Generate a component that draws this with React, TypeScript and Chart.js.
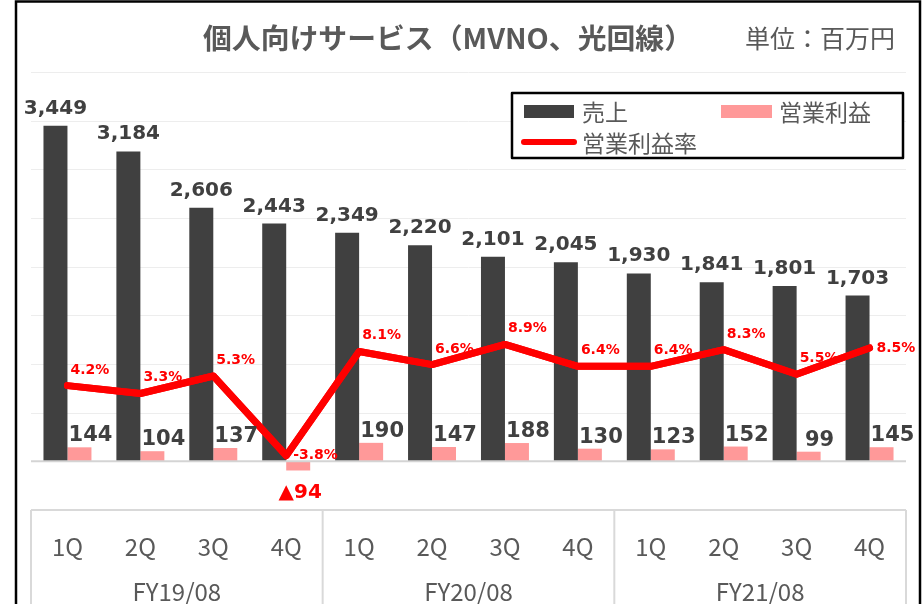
import React, { useEffect, useRef } from "react";
import { Chart, registerables } from "chart.js";

Chart.register(...registerables);

const titleText = "個人向けサービス（MVNO、光回線）";
const unitText = "単位：百万円";
const quarters = ["1Q", "2Q", "3Q", "4Q", "1Q", "2Q", "3Q", "4Q", "1Q", "2Q", "3Q", "4Q"];
const fiscalYears = ["FY19/08", "FY20/08", "FY21/08"];
const sales = [3449, 3184, 2606, 2443, 2349, 2220, 2101, 2045, 1930, 1841, 1801, 1703];
const operatingProfit = [144, 104, 137, -94, 190, 147, 188, 130, 123, 152, 99, 145];
const operatingMargin = [4.2, 3.3, 5.3, -3.8, 8.1, 6.6, 8.9, 6.4, 6.4, 8.3, 5.5, 8.5];
const salesGridTicks = [0, 500, 1000, 1500, 2000, 2500, 3000, 3500, 4000];
const legendLabels = ["売上", "営業利益", "営業利益率"];
// label placement style for margin labels
const marginLabelPlacement = ["above", "above", "above", "right", "above", "above", "above", "above", "above", "above", "above", "right"];

const SALES_COLOR = "#404040";
const PROFIT_COLOR = "#FF9999";
const MARGIN_COLOR = "#FF0000";
const TEXT_GRAY = "#595959";
const CJK = '"Noto Sans CJK JP", "Noto Sans", sans-serif';
const NUM = '"DejaVu Sans", Verdana, sans-serif';

const fmt = (v: number) => v.toLocaleString("en-US");

const decorPlugin = {
  id: "decor",
  beforeDatasetsDraw(chart: any) {
    const { ctx, chartArea } = chart;
    const y = chart.scales.y;
    const x = chart.scales.x;
    ctx.save();
    // gridlines
    ctx.strokeStyle = "#EDEDED";
    ctx.lineWidth = 1;
    salesGridTicks.forEach((v) => {
      if (v === 0) return;
      const py = Math.round(y.getPixelForValue(v)) + 0.5;
      ctx.beginPath();
      ctx.moveTo(chartArea.left, py);
      ctx.lineTo(chartArea.right, py);
      ctx.stroke();
    });
    // category box
    ctx.strokeStyle = "#D9D9D9";
    ctx.lineWidth = 2;
    const boxTop = y.getPixelForValue(y.min);
    ctx.beginPath();
    ctx.moveTo(chartArea.left, boxTop);
    ctx.lineTo(chartArea.right, boxTop);
    ctx.stroke();
    const n = quarters.length;
    const per = n / fiscalYears.length;
    const slot = (chartArea.right - chartArea.left) / n;
    for (let g = 0; g <= fiscalYears.length; g++) {
      const px = chartArea.left + g * per * slot;
      ctx.beginPath();
      ctx.moveTo(px, boxTop);
      ctx.lineTo(px, chart.height);
      ctx.stroke();
    }
    // quarter labels
    ctx.fillStyle = TEXT_GRAY;
    ctx.font = `24px ${CJK}`;
    ctx.textAlign = "center";
    ctx.textBaseline = "alphabetic";
    quarters.forEach((q, i) => {
      ctx.fillText(q, x.getPixelForValue(i), 556);
    });
    fiscalYears.forEach((fy, g) => {
      const cx = chartArea.left + (g + 0.5) * per * slot;
      ctx.fillText(fy, cx, 601);
    });
    // title (stretched to the reference span)
    ctx.font = `bold 28px ${CJK}`;
    ctx.textBaseline = "middle";
    const tw = ctx.measureText(titleText).width;
    const sx = 490 / tw;
    ctx.save();
    ctx.translate(448, 38);
    ctx.scale(sx, 1);
    ctx.fillText(titleText, 0, 0);
    ctx.restore();
    ctx.font = `25px ${CJK}`;
    ctx.fillText(unitText, 820, 38);
    ctx.restore();
  },
  afterDatasetsDraw(chart: any) {
    const { ctx } = chart;
    const y = chart.scales.y;
    const zeroY = y.getPixelForValue(0);
    ctx.save();
    // zero line
    ctx.strokeStyle = "#D4D4D4";
    ctx.lineWidth = 2;
    ctx.beginPath();
    ctx.moveTo(chart.chartArea.left, zeroY);
    ctx.lineTo(chart.chartArea.right, zeroY);
    ctx.stroke();

    // margin line redrawn above the zero line
    const lineMeta = chart.getDatasetMeta(2);
    ctx.strokeStyle = MARGIN_COLOR;
    ctx.lineWidth = 7;
    ctx.lineJoin = "round";
    ctx.lineCap = "round";
    ctx.beginPath();
    lineMeta.data.forEach((p: any, i: number) => {
      if (i === 0) ctx.moveTo(p.x, p.y);
      else ctx.lineTo(p.x, p.y);
    });
    ctx.stroke();

    // sales labels
    const salesMeta = chart.getDatasetMeta(0);
    ctx.fillStyle = SALES_COLOR;
    ctx.font = `bold 20px ${NUM}`;
    ctx.textAlign = "center";
    ctx.textBaseline = "alphabetic";
    salesMeta.data.forEach((b: any, i: number) => {
      ctx.fillText(fmt(sales[i]), b.x, b.y - 12);
    });
    // profit labels
    const profitMeta = chart.getDatasetMeta(1);
    profitMeta.data.forEach((b: any, i: number) => {
      const v = operatingProfit[i];
      if (v >= 0) {
        ctx.fillStyle = SALES_COLOR;
        ctx.font = `bold 21px ${NUM}`;
        ctx.fillText(fmt(v), b.x + 11, b.y - 6);
      } else {
        ctx.fillStyle = MARGIN_COLOR;
        ctx.font = `bold 20px ${NUM}`;
        ctx.fillText("▲" + fmt(Math.abs(v)), b.x + 2, b.y + 28);
      }
    });
    // margin labels
    ctx.fillStyle = MARGIN_COLOR;
    ctx.font = `bold 14px ${NUM}`;
    ctx.textAlign = "left";
    lineMeta.data.forEach((p: any, i: number) => {
      const t = operatingMargin[i].toFixed(1) + "%";
      if (marginLabelPlacement[i] === "right") {
        ctx.textBaseline = "middle";
        ctx.fillText(t, p.x + 7, p.y);
      } else {
        ctx.textBaseline = "alphabetic";
        ctx.fillText(t, p.x + 3, p.y - 12);
      }
    });

    // legend
    const lx = 512, ly = 93, lw = 391, lh = 65;
    ctx.fillStyle = "#FFFFFF";
    ctx.fillRect(lx, ly, lw, lh);
    ctx.strokeStyle = "#000000";
    ctx.lineWidth = 2.5;
    ctx.strokeRect(lx, ly, lw, lh);
    ctx.fillStyle = SALES_COLOR;
    ctx.fillRect(524, 105, 50, 13);
    ctx.fillStyle = PROFIT_COLOR;
    ctx.fillRect(721, 105, 51, 13);
    ctx.strokeStyle = MARGIN_COLOR;
    ctx.lineWidth = 6;
    ctx.lineCap = "round";
    ctx.beginPath();
    ctx.moveTo(524, 142);
    ctx.lineTo(574, 142);
    ctx.stroke();
    ctx.fillStyle = TEXT_GRAY;
    ctx.font = `23px ${CJK}`;
    ctx.textAlign = "left";
    ctx.textBaseline = "middle";
    ctx.fillText(legendLabels[0], 582, 112);
    ctx.fillText(legendLabels[1], 779, 112);
    ctx.fillText(legendLabels[2], 582, 143);

    ctx.restore();
  },
  afterDraw(chart: any) {
    const { ctx } = chart;
    ctx.save();
    ctx.strokeStyle = "#000000";
    ctx.lineWidth = 2.5;
    ctx.beginPath();
    ctx.moveTo(16, chart.height);
    ctx.lineTo(16, 1.5);
    ctx.lineTo(920, 1.5);
    ctx.lineTo(920, chart.height);
    ctx.stroke();
    ctx.restore();
  },
};

export default function App() {
  const ref = useRef<HTMLCanvasElement | null>(null);
  useEffect(() => {
    if (!ref.current) return;
    const chart = new Chart(ref.current, {
      type: "bar",
      data: {
        labels: quarters,
        datasets: [
          {
            label: legendLabels[0],
            data: sales,
            backgroundColor: SALES_COLOR,
            yAxisID: "y",
            order: 1,
            categoryPercentage: 0.658,
            barPercentage: 1.0,
          },
          {
            label: legendLabels[1],
            data: operatingProfit,
            backgroundColor: PROFIT_COLOR,
            yAxisID: "y",
            order: 2,
            categoryPercentage: 0.658,
            barPercentage: 1.0,
          },
          {
            type: "line",
            label: legendLabels[2],
            data: operatingMargin,
            borderColor: MARGIN_COLOR,
            backgroundColor: MARGIN_COLOR,
            borderWidth: 7,
            pointRadius: 0,
            borderJoinStyle: "round",
            borderCapStyle: "round",
            yAxisID: "y2",
            order: 0,
          } as any,
        ],
      },
      options: {
        responsive: false,
        animation: false,
        devicePixelRatio: 1,
        layout: { padding: { left: 31, right: 18, top: 72, bottom: 94 } },
        plugins: { legend: { display: false }, tooltip: { enabled: false }, title: { display: false } },
        scales: {
          x: { display: false, offset: true },
          y: { display: false, min: -500, max: 4000 },
          y2: { display: false, min: -10, max: 40, position: "right" },
        },
      },
      plugins: [decorPlugin],
    });
    return () => chart.destroy();
  }, []);
  return (
    <div style={{ position: "fixed", left: 0, top: 0, width: 924, height: 604, background: "#FFFFFF" }}>
      <canvas ref={ref} width={924} height={604} style={{ width: 924, height: 604, display: "block" }} />
    </div>
  );
}
